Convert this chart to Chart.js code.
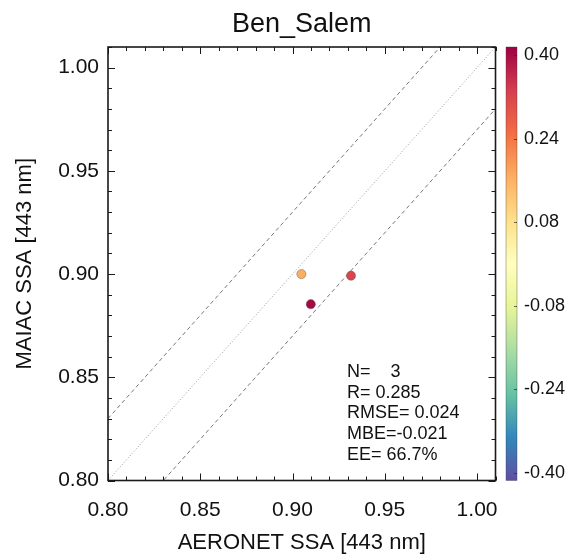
<!DOCTYPE html>
<html>
<head>
<meta charset="utf-8">
<script src="https://cdn.jsdelivr.net/npm/chart.js@4.4.1/dist/chart.umd.min.js"></script>
<style>
html,body{margin:0;padding:0;background:#ffffff;}
#wrap{width:565px;height:555px;}
canvas{display:block;}
</style>
</head>
<body>
<div id="wrap"><canvas id="c" width="565" height="555"></canvas></div>
<script>
// ---- data ----
const siteName = "Ben_Salem";
const xAxisTitle = "AERONET SSA [443 nm]";
const yAxisTitle = "MAIAC SSA [443 nm]";
const aeronetSSA = [0.9048, 0.9317, 0.9099];
const maiacSSA = [0.9000, 0.8992, 0.8854];
const colorValues = [0.16, 0.31, 0.39];
const axisMin = 0.80;
const axisMax = 1.01;
const majorStep = 0.05;
const minorStep = 0.01;
const eeOffset = 0.03;
const colorbarTicks = [0.40, 0.24, 0.08, -0.08, -0.24, -0.40];
const colorbarMin = -0.40;
const colorbarMax = 0.40;
const statsLines = ["N=    3", "R= 0.285", "RMSE= 0.024", "MBE=-0.021", "EE= 66.7%"];
// Spectral colormap, from colorbar top (max) to bottom (min)
const spectralColors = ['#9e0142','#d53e4f','#f46d43','#fdae61','#fee08b','#ffffbf','#e6f598','#abdda4','#66c2a5','#3288bd','#5e4fa2'];

function hexToRgb(h){return [parseInt(h.slice(1,3),16),parseInt(h.slice(3,5),16),parseInt(h.slice(5,7),16)];}
function colorFor(v){
  let t = (colorbarMax - v) / (colorbarMax - colorbarMin);
  t = Math.max(0, Math.min(1, t));
  const f = t * (spectralColors.length - 1);
  const i = Math.min(Math.floor(f), spectralColors.length - 2);
  const r = f - i;
  const a = hexToRgb(spectralColors[i]), b = hexToRgb(spectralColors[i+1]);
  const c = a.map((x,k)=>Math.round(x + (b[k]-x)*r));
  return 'rgb(' + c.join(',') + ')';
}

const points = aeronetSSA.map((x,i)=>({x:x, y:maiacSSA[i]}));
const pointColors = colorValues.map(colorFor);
const refLine = (off)=>[{x:axisMin, y:axisMin+off},{x:axisMax, y:axisMax+off}];

const FONT = "'Liberation Sans', Arial, Helvetica, sans-serif";

const bgPlugin = {
  id:'bg',
  beforeDraw(chart){
    const ctx = chart.ctx;
    ctx.save(); ctx.fillStyle='#ffffff'; ctx.fillRect(0,0,chart.width,chart.height); ctx.restore();
  }
};

const framePlugin = {
  id:'frame',
  afterDatasetsDraw(chart){
    const ctx = chart.ctx, a = chart.chartArea;
    const xs = chart.scales.x, ys = chart.scales.y;
    ctx.save();
    ctx.strokeStyle = '#1a1a1a';
    ctx.lineWidth = 1;
    const nMin = Math.round(axisMin/minorStep), nMax = Math.round(axisMax/minorStep);
    const perMajor = Math.round(majorStep/minorStep);
    ctx.beginPath();
    for (let n = nMin; n <= nMax; n++) {
      const v = n * minorStep;
      const len = (n % perMajor === 0) ? 7 : 4;
      const px = Math.round(xs.getPixelForValue(v)) + 0.5;
      const py = Math.round(ys.getPixelForValue(v)) + 0.5;
      // bottom & top
      ctx.moveTo(px, a.bottom); ctx.lineTo(px, a.bottom - len);
      ctx.moveTo(px, a.top); ctx.lineTo(px, a.top + len);
      // left & right
      ctx.moveTo(a.left, py); ctx.lineTo(a.left + len, py);
      ctx.moveTo(a.right, py); ctx.lineTo(a.right - len, py);
    }
    ctx.stroke();
    ctx.lineWidth = 1.6;
    ctx.strokeRect(a.left, a.top, a.right - a.left, a.bottom - a.top);
    ctx.restore();
  },
  afterDraw(chart){
    const ctx = chart.ctx;
    // statistics text
    ctx.save();
    ctx.fillStyle = '#111';
    ctx.font = '18px ' + FONT;
    ctx.textAlign = 'left';
    ctx.textBaseline = 'middle';
    statsLines.forEach((s,i)=>{ ctx.fillText(s, 347, 372 + i*20.75); });
    ctx.restore();

    // colorbar
    const bx = 506, bw = 11, bTop = 47, bBot = 480.5;
    ctx.save();
    const g = ctx.createLinearGradient(0, bTop, 0, bBot);
    spectralColors.forEach((c,i)=>g.addColorStop(i/(spectralColors.length-1), c));
    ctx.fillStyle = g;
    ctx.fillRect(bx, bTop, bw, bBot - bTop);
    ctx.strokeStyle = 'rgba(60,60,60,0.6)';
    ctx.lineWidth = 0.6;
    ctx.strokeRect(bx, bTop, bw, bBot - bTop);
    const labTop = 55, labBot = 473;
    const yFor = v => labTop + (colorbarMax - v)/(colorbarMax - colorbarMin)*(labBot - labTop);
    ctx.fillStyle = '#111';
    ctx.font = '18px ' + FONT;
    ctx.textAlign = 'left';
    ctx.textBaseline = 'middle';
    ctx.strokeStyle = 'rgba(40,40,40,0.7)';
    ctx.lineWidth = 1;
    colorbarTicks.forEach(v=>{
      const y = yFor(v);
      ctx.beginPath(); ctx.moveTo(bx + bw - 3, Math.round(y)+0.5); ctx.lineTo(bx + bw, Math.round(y)+0.5); ctx.stroke();
      ctx.fillText(v.toFixed(2), 524, y);
    });
    ctx.restore();
  }
};

new Chart(document.getElementById('c'), {
  type: 'scatter',
  data: {
    datasets: [
      {
        label: 'SSA',
        data: points,
        pointRadius: 4.6,
        pointHoverRadius: 4.6,
        pointBackgroundColor: pointColors,
        pointBorderColor: 'rgba(90,90,90,0.55)',
        pointBorderWidth: 0.8,
        showLine: false
      },
      {
        label: '1:1',
        data: refLine(0),
        showLine: true,
        pointRadius: 0,
        borderColor: '#9a9a9a',
        borderWidth: 1,
        borderDash: [1, 2]
      },
      {
        label: 'EE+',
        data: refLine(eeOffset),
        showLine: true,
        pointRadius: 0,
        borderColor: '#777777',
        borderWidth: 1,
        borderDash: [4, 3]
      },
      {
        label: 'EE-',
        data: refLine(-eeOffset),
        showLine: true,
        pointRadius: 0,
        borderColor: '#777777',
        borderWidth: 1,
        borderDash: [4, 3]
      }
    ]
  },
  options: {
    responsive: false,
    animation: false,
    devicePixelRatio: 1,
    layout: { padding: { left: 0, right: 69.5, top: 0, bottom: 0 } },
    plugins: {
      legend: { display: false },
      tooltip: { enabled: false },
      title: {
        display: true,
        text: siteName,
        fullSize: false,
        color: '#111',
        font: { family: FONT, size: 27, weight: 'normal', lineHeight: 1.2 },
        padding: { top: 8, bottom: 6.6 }
      }
    },
    scales: {
      x: {
        type: 'linear',
        min: axisMin,
        max: axisMax,
        grid: { display: false, drawTicks: false },
        border: { display: false },
        ticks: {
          stepSize: majorStep,
          includeBounds: false,
          padding: 17,
          color: '#111',
          font: { family: FONT, size: 21 },
          maxRotation: 0,
          autoSkip: false,
          callback: v => v.toFixed(2)
        },
        title: {
          display: true,
          text: xAxisTitle,
          color: '#111',
          font: { family: FONT, size: 22, lineHeight: 1.0 },
          padding: { top: 0, bottom: 1 }
        },
        afterFit: s => { s.height = 74.5; }
      },
      y: {
        type: 'linear',
        min: axisMin,
        max: axisMax,
        grid: { display: false, drawTicks: false },
        border: { display: false },
        ticks: {
          stepSize: majorStep,
          includeBounds: false,
          padding: 9,
          color: '#111',
          font: { family: FONT, size: 21 },
          autoSkip: false,
          callback: v => v.toFixed(2)
        },
        title: {
          display: true,
          text: yAxisTitle,
          color: '#111',
          font: { family: FONT, size: 22, lineHeight: 1.0 },
          padding: { top: 14, bottom: 0 }
        },
        afterFit: s => { s.width = 108; }
      }
    }
  },
  plugins: [bgPlugin, framePlugin]
});
</script>
</body>
</html>
